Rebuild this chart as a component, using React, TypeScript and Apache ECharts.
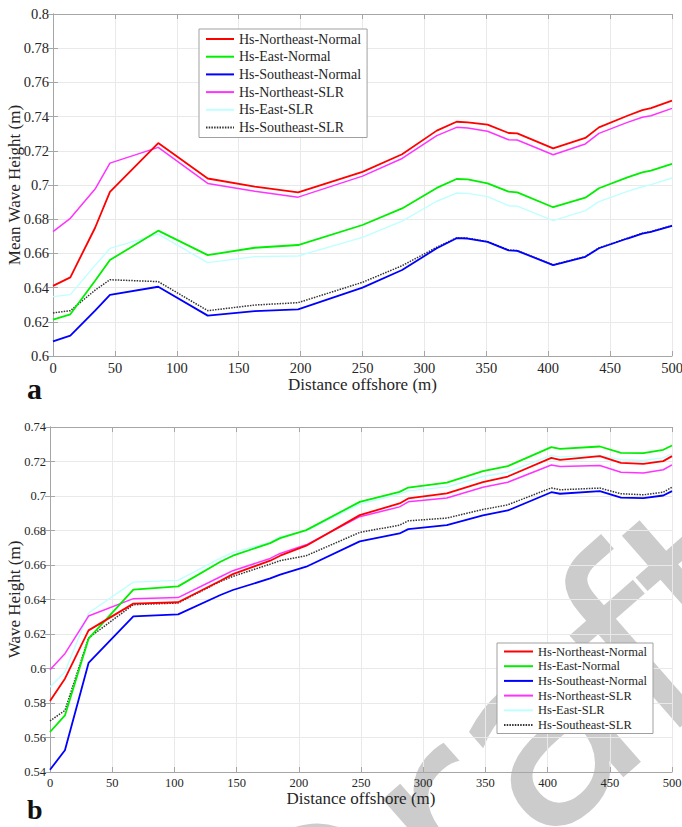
import React, { useEffect, useRef } from "react";
import * as echarts from "echarts";

// ---------- data ----------
const seriesNames = [
  "Hs-Northeast-Normal",
  "Hs-East-Normal",
  "Hs-Southeast-Normal",
  "Hs-Northeast-SLR",
  "Hs-East-SLR",
  "Hs-Southeast-SLR",
];

// Panel a
const topX = [0, 14, 34, 46, 85, 125, 163, 198, 250, 282, 310, 326, 335, 351, 368, 375, 404, 430, 441, 464, 476, 483, 500];
const topNENormal = [0.641, 0.646, 0.675, 0.696, 0.7245, 0.7038, 0.699, 0.6957, 0.7077, 0.718, 0.7318, 0.737, 0.7366, 0.7353, 0.7304, 0.7302, 0.7214, 0.7275, 0.7337, 0.7405, 0.7438, 0.745, 0.7493];
const topENormal = [0.6213, 0.6244, 0.644, 0.6561, 0.6733, 0.659, 0.6633, 0.6649, 0.6766, 0.6863, 0.6983, 0.7035, 0.7033, 0.701, 0.6961, 0.6957, 0.687, 0.6926, 0.6981, 0.7045, 0.7074, 0.7084, 0.7123];
const topSENormal = [0.6086, 0.6119, 0.6265, 0.6357, 0.6405, 0.6236, 0.6263, 0.6273, 0.64, 0.6503, 0.663, 0.6689, 0.6687, 0.6667, 0.6618, 0.6615, 0.6531, 0.658, 0.663, 0.6687, 0.6716, 0.6726, 0.6761];
const topNESLR = [0.6727, 0.6805, 0.6976, 0.7128, 0.722, 0.7009, 0.6964, 0.6929, 0.7052, 0.7155, 0.7289, 0.7337, 0.7333, 0.7314, 0.7265, 0.7263, 0.7177, 0.724, 0.7302, 0.7366, 0.7396, 0.7405, 0.7448];
const topESLR = [0.6347, 0.6359, 0.653, 0.6629, 0.6713, 0.6546, 0.6581, 0.6585, 0.6694, 0.6789, 0.6905, 0.6953, 0.6951, 0.6932, 0.6879, 0.6876, 0.6792, 0.685, 0.6903, 0.6963, 0.699, 0.7002, 0.7041];
const topSESLR = [0.6252, 0.6265, 0.6385, 0.6446, 0.6435, 0.6265, 0.6298, 0.6312, 0.6431, 0.6528, 0.6636, 0.6691, 0.6689, 0.6669, 0.662, 0.6617, 0.6533, 0.6582, 0.6632, 0.6689, 0.6718, 0.6728, 0.6763];

// Panel b
const botX = [0, 12, 31, 67, 103, 137, 147, 177, 185, 206, 249, 281, 288, 319, 348, 368, 403, 410, 442, 459, 477, 493, 500];
const botNENormal = [0.5812, 0.5941, 0.6221, 0.6376, 0.6384, 0.6509, 0.6547, 0.6625, 0.6654, 0.6712, 0.6889, 0.6957, 0.6986, 0.7015, 0.708, 0.7113, 0.7221, 0.721, 0.7231, 0.7192, 0.7186, 0.7202, 0.7231];
const botENormal = [0.5632, 0.5728, 0.6173, 0.6457, 0.6476, 0.6619, 0.6654, 0.6727, 0.6756, 0.6802, 0.6966, 0.7024, 0.7049, 0.7078, 0.7144, 0.7173, 0.7283, 0.7273, 0.7287, 0.725, 0.7248, 0.7268, 0.7293];
const botSENormal = [0.5413, 0.5526, 0.6032, 0.6302, 0.6314, 0.6426, 0.6455, 0.6522, 0.6544, 0.659, 0.6737, 0.6783, 0.6808, 0.6831, 0.6887, 0.6916, 0.7022, 0.7013, 0.7028, 0.699, 0.6988, 0.7003, 0.7028];
const botNESLR = [0.5993, 0.6086, 0.6304, 0.6405, 0.6411, 0.6532, 0.6567, 0.6638, 0.6667, 0.6717, 0.688, 0.6937, 0.6966, 0.6988, 0.7051, 0.708, 0.718, 0.7171, 0.7177, 0.7138, 0.7134, 0.7152, 0.718];
const botESLR = [0.5893, 0.598, 0.6322, 0.6501, 0.6511, 0.664, 0.6673, 0.6731, 0.6764, 0.6798, 0.6953, 0.7011, 0.703, 0.7053, 0.7113, 0.7138, 0.7235, 0.7226, 0.7235, 0.721, 0.7206, 0.7221, 0.7244];
const botSESLR = [0.5696, 0.5757, 0.6177, 0.637, 0.638, 0.6505, 0.6534, 0.6605, 0.6625, 0.6654, 0.6789, 0.6831, 0.6856, 0.6872, 0.6922, 0.6949, 0.7047, 0.7036, 0.7046, 0.7013, 0.7007, 0.7022, 0.7051];

const topValues = [topNENormal, topENormal, topSENormal, topNESLR, topESLR, topSESLR];
const botValues = [botNENormal, botENormal, botSENormal, botNESLR, botESLR, botSESLR];

const xTitle = "Distance offshore (m)";
const yTitleTop = "Mean Wave Height (m)";
const yTitleBot = "Wave Height (m)";

// ---------- styles ----------
const FONT = "Liberation Serif";
const TXT = "#262626";
const FRAME = "#a6a6a6";
const GRIDLINE = "#e9e9e9";
const lineStyles = [
  { color: "#ff0000", width: 1.8, type: "solid" },
  { color: "#00ee00", width: 1.8, type: "solid" },
  { color: "#0000ff", width: 1.8, type: "solid" },
  { color: "#ff33ff", width: 1.5, type: "solid" },
  { color: "#c0ffff", width: 1.4, type: "solid" },
  { color: "#333333", width: 1.5, type: [1.5, 1.2] },
];

function axesFor(grid: number, fs: number, yMin: number, yMax: number, yName: string, yGap: number) {
  const xMain = {
    type: "value",
    gridIndex: grid,
    min: 0,
    max: 500,
    interval: 50,
    position: "bottom",
    name: xTitle,
    nameLocation: "middle",
    nameGap: 17,
    nameTextStyle: { fontFamily: FONT, fontSize: 17, color: TXT },
    axisLine: { show: true, lineStyle: { color: FRAME, width: 1 } },
    axisTick: { show: true, inside: true, length: 5, lineStyle: { color: FRAME } },
    axisLabel: { fontFamily: FONT, fontSize: fs, color: TXT, margin: 4 },
    splitLine: { show: true, lineStyle: { color: GRIDLINE, width: 1 } },
  };
  const xTop = {
    type: "value",
    gridIndex: grid,
    min: 0,
    max: 500,
    interval: 50,
    position: "top",
    axisLine: { show: true, lineStyle: { color: FRAME, width: 1 } },
    axisTick: { show: true, inside: true, length: 5, lineStyle: { color: FRAME } },
    axisLabel: { show: false },
    splitLine: { show: false },
  };
  const yMain = {
    type: "value",
    gridIndex: grid,
    min: yMin,
    max: yMax,
    interval: 0.02,
    position: "left",
    name: yName,
    nameLocation: "middle",
    nameGap: yGap,
    nameRotate: 90,
    nameMoveOverlap: false,
    nameTextStyle: { fontFamily: FONT, fontSize: 17, color: TXT },
    axisLine: { show: true, lineStyle: { color: FRAME, width: 1 } },
    axisTick: { show: true, inside: true, length: 5, lineStyle: { color: FRAME } },
    axisLabel: { fontFamily: FONT, fontSize: fs, color: TXT, margin: 4 },
    splitLine: { show: true, lineStyle: { color: GRIDLINE, width: 1 } },
  };
  const yRight = {
    type: "value",
    gridIndex: grid,
    min: yMin,
    max: yMax,
    interval: 0.02,
    position: "right",
    axisLine: { show: true, lineStyle: { color: FRAME, width: 1 } },
    axisTick: { show: true, inside: true, length: 5, lineStyle: { color: FRAME } },
    axisLabel: { show: false },
    splitLine: { show: false },
  };
  return { x: [xMain, xTop], y: [yMain, yRight] };
}

function buildOption() {
  const a = axesFor(0, 14.5, 0.6, 0.8, yTitleTop, 30);
  const b = axesFor(1, 12.5, 0.54, 0.74, yTitleBot, 27);
  const series: any[] = [];
  seriesNames.forEach((name, i) => {
    series.push({
      type: "line",
      name,
      xAxisIndex: 0,
      yAxisIndex: 0,
      symbol: "none",
      lineStyle: lineStyles[i],
      itemStyle: { color: lineStyles[i].color },
      data: topX.map((x, k) => [x, topValues[i][k]]),
      z: 10 - i,
    });
  });
  seriesNames.forEach((name, i) => {
    series.push({
      type: "line",
      name,
      xAxisIndex: 2,
      yAxisIndex: 2,
      symbol: "none",
      lineStyle: lineStyles[i],
      itemStyle: { color: lineStyles[i].color },
      data: botX.map((x, k) => [x, botValues[i][k]]),
      z: 10 - i,
    });
  });
  const legendBase = {
    orient: "vertical",
    backgroundColor: "#ffffff",
    borderColor: "#a0a0a0",
    borderWidth: 1,
    borderRadius: 0,
    selectedMode: false,
    data: seriesNames,
    itemStyle: { color: "transparent", borderWidth: 0, opacity: 0 },
    z: 20,
  };
  return {
    animation: false,
    backgroundColor: "#ffffff",
    grid: [
      { left: 53, right: 10, top: 14, height: 342, outerBoundsMode: "none", containLabel: false },
      { left: 50, right: 10, top: 427, height: 345, outerBoundsMode: "none", containLabel: false },
    ],
    xAxis: [...a.x, ...b.x],
    yAxis: [...a.y, ...b.y],
    legend: [
      {
        ...legendBase,
        left: 199,
        top: 29,
        itemWidth: 28,
        itemHeight: 14,
        itemGap: 3.7,
        padding: [3, 6, 3, 6],
        textStyle: { fontFamily: FONT, fontSize: 14, color: TXT },
      },
      {
        ...legendBase,
        left: 497,
        top: 643,
        itemWidth: 29,
        itemHeight: 12.5,
        itemGap: 1.7,
        padding: [2, 6, 2, 6],
        textStyle: { fontFamily: FONT, fontSize: 12.5, color: TXT },
      },
    ],
    graphic: [
      {
        type: "text",
        x: 495,
        y: 770,
        rotation: 0.72,
        z: -1,
        silent: true,
        style: {
          text: "Draft",
          fontFamily: "DejaVu Sans",
          fontSize: 260,
          fill: "#cccccc",
          align: "center",
          verticalAlign: "middle",
        },
      },
      {
        type: "text",
        x: 27,
        y: 388,
        z: 20,
        style: { text: "a", fontFamily: FONT, fontWeight: "bold", fontSize: 30, fill: "#111", verticalAlign: "middle" },
      },
      {
        type: "text",
        x: 27,
        y: 809,
        z: 20,
        style: { text: "b", fontFamily: FONT, fontWeight: "bold", fontSize: 28, fill: "#111", verticalAlign: "middle" },
      },
    ],
    series,
  };
}

export default function App() {
  const ref = useRef<HTMLDivElement>(null);
  useEffect(() => {
    if (!ref.current) return;
    const chart = echarts.init(ref.current, null, { renderer: "svg" });
    chart.setOption(buildOption() as any);
    return () => chart.dispose();
  }, []);
  return (
    <div
      ref={ref}
      style={{ position: "fixed", left: 0, top: 0, width: 682, height: 827, background: "#fff" }}
    />
  );
}
